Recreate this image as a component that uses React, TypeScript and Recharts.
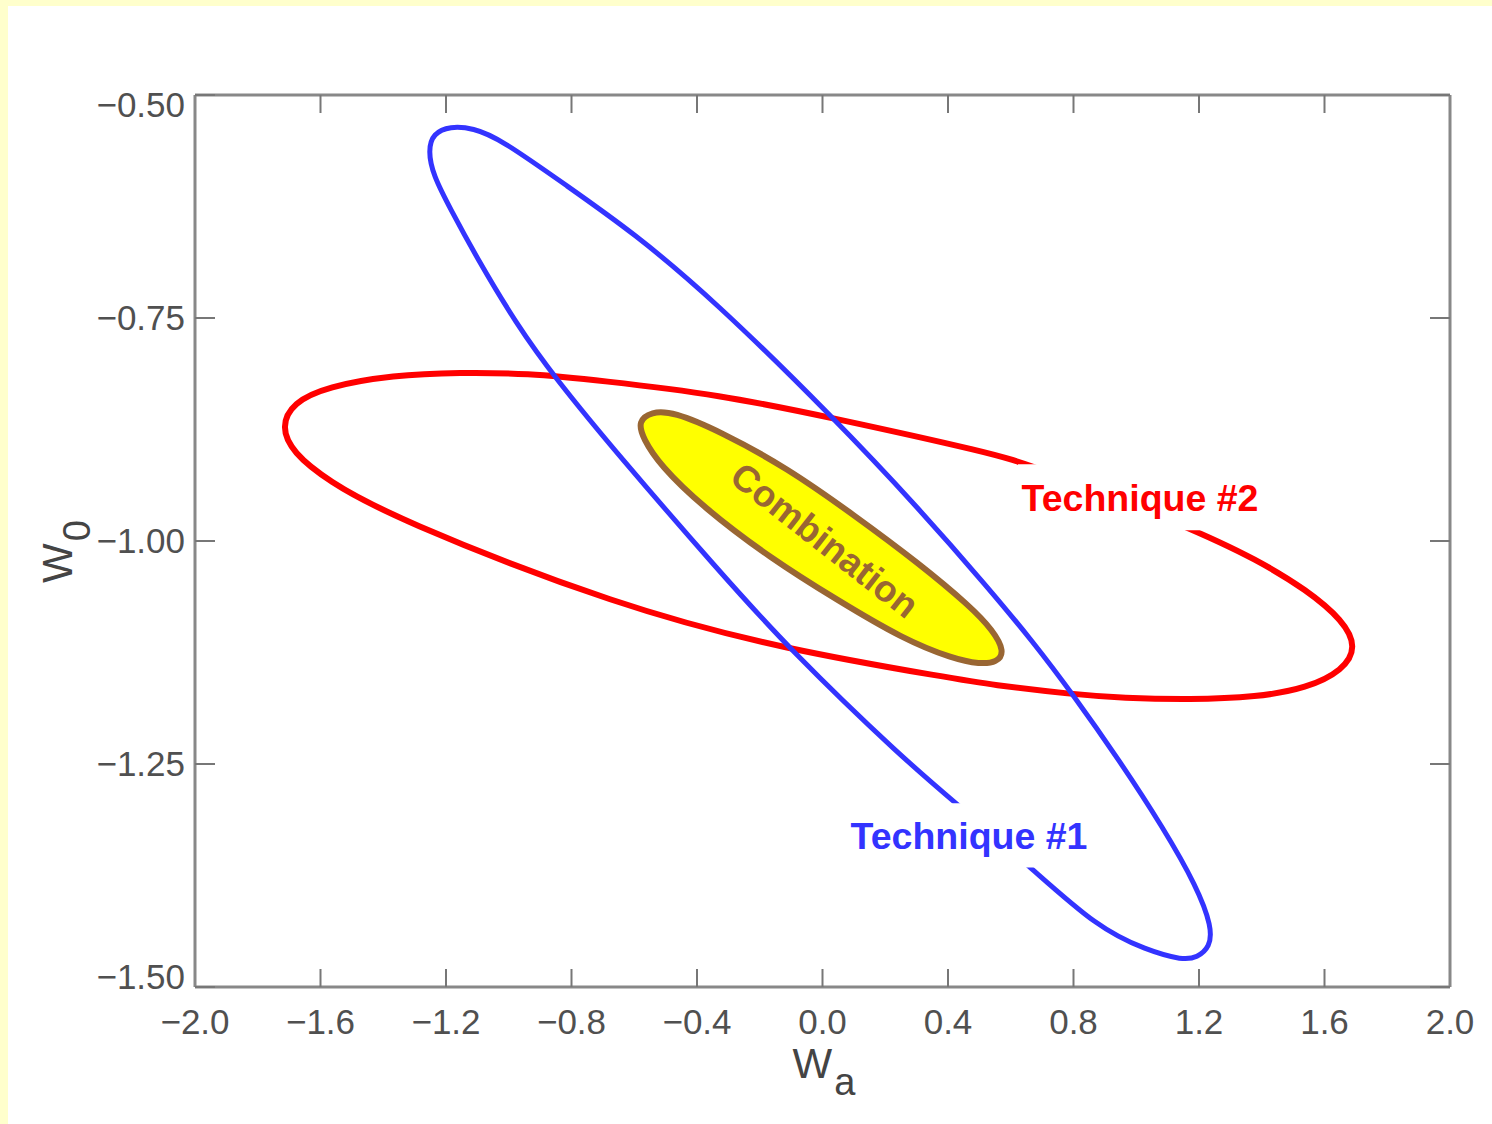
import React from 'react';
import { LineChart, Line, XAxis, YAxis, ReferenceArea, ReferenceDot, Label } from 'recharts';

// contour readings, [w_a, w_0], going round each ellipse clockwise
const technique1: [number, number][] = [
  [-1.187, -0.535], [-1.114, -0.537], [-1.028, -0.549], [-0.814, -0.602], [-0.604, -0.654],
  [-0.349, -0.729], [0.033, -0.861], [0.311, -0.965], [0.527, -1.052], [0.671, -1.113],
  [0.798, -1.172], [0.948, -1.247], [1.085, -1.321], [1.194, -1.388], [1.241, -1.433],
  [1.235, -1.455], [1.194, -1.467], [1.149, -1.47], [1.034, -1.459], [0.875, -1.433],
  [0.661, -1.365], [0.429, -1.295], [0.257, -1.244], [-0.104, -1.122], [-0.339, -1.03],
  [-0.645, -0.906], [-0.853, -0.817], [-0.977, -0.756], [-1.101, -0.683], [-1.187, -0.627],
  [-1.241, -0.59], [-1.257, -0.562], [-1.241, -0.543],
];

const technique2: [number, number][] = [
  [-1.726, -0.872], [-1.688, -0.845], [-1.579, -0.827], [-1.369, -0.814], [-1.155, -0.811],
  [-0.942, -0.812], [-0.709, -0.82], [-0.327, -0.836], [0.033, -0.862], [0.534, -0.901],
  [0.677, -0.916], [1.171, -0.985], [1.385, -1.021], [1.544, -1.055], [1.659, -1.089],
  [1.703, -1.119], [1.659, -1.145], [1.544, -1.165], [1.385, -1.175], [1.171, -1.178],
  [0.958, -1.176], [0.798, -1.172], [0.534, -1.161], [0.416, -1.154], [-0.113, -1.122],
  [-0.645, -1.074], [-1.369, -0.974], [-1.579, -0.932], [-1.688, -0.901],
];

const combination: [number, number][] = [
  [-0.546, -0.855], [-0.476, -0.855], [-0.327, -0.877], [-0.113, -0.918], [0.097, -0.97],
  [0.311, -1.026], [0.47, -1.073], [0.543, -1.1], [0.581, -1.124], [0.556, -1.136],
  [0.502, -1.138], [0.416, -1.132], [0.257, -1.11], [0.046, -1.066], [-0.167, -1.019],
  [-0.381, -0.962], [-0.518, -0.915], [-0.572, -0.885], [-0.588, -0.866],
];

const waTicks = [-2.0, -1.6, -1.2, -0.8, -0.4, 0.0, 0.4, 0.8, 1.2, 1.6, 2.0];
const w0Ticks = [-1.5, -1.25, -1.0, -0.75, -0.5];
const seriesNames = ['Technique #1', 'Technique #2', 'Combination'];

const toRows = (pts: [number, number][]) => pts.map(([x, y]) => ({ x, y }));

const FONT = '"Liberation Sans", Arial, Helvetica, sans-serif';
const AXIS_GREY = '#888';
const TEXT_GREY = '#505050';

const signed = (v: number, d: number) => (v < 0 ? '\u2212' + Math.abs(v).toFixed(d) : v.toFixed(d));

const YTick = ({ x, y, payload }: any) => {
    // end labels sit a little inside the frame in the original
    const shift = payload.value === -0.5 ? 10 : payload.value === -1.5 ? -10 : 0;
    return (
        <text x={x} y={y + shift} dy={12} textAnchor="end" fill={TEXT_GREY} fontSize={35} fontFamily={FONT}>
            {signed(payload.value, 2)}
        </text>
    );
};

const WaLabel = ({ viewBox }: any) => {
    const cx = viewBox.x + viewBox.width / 2;
    return (
        <text x={cx - 30} y={viewBox.y + 91} fill="#444" fontSize={42} fontFamily={FONT}>
            W<tspan dx={2} dy={17} fontSize={38}>a</tspan>
        </text>
    );
};

const W0Label = ({ viewBox }: any) => {
    const x = viewBox.x - 3;
    const y = viewBox.y + viewBox.height / 2 + 42;
    return (
        <text x={x} y={y} transform={`rotate(-90 ${x} ${y})`} fill="#444" fontSize={42} fontFamily={FONT}>
            W<tspan dx={2} dy={18} fontSize={38}>0</tspan>
        </text>
    );
};

export default function App() {
    return (
        <div style={{ position: 'relative', width: 1492, height: 1124, background: '#ffffcc', overflow: 'hidden' }}>
            <style>{`
                body { margin: 0; }
                .combo-fill .recharts-line-curve { fill: #ffff00; }
            `}</style>
            <div style={{ position: 'absolute', left: 8, top: 6, right: 0, bottom: 0, background: '#fff' }} />
            <div style={{ position: 'absolute', left: 0, top: 0 }}>
                <LineChart width={1492} height={1124} margin={{ top: 94, right: 41, bottom: 37, left: 75 }}>
                    <XAxis
                        dataKey="x" type="number" domain={[-2, 2]} ticks={waTicks} interval={0} allowDataOverflow
                        height={100} tickSize={-18} tickMargin={40}
                        axisLine={{ stroke: AXIS_GREY, strokeWidth: 3 }}
                        tickLine={{ stroke: '#777', strokeWidth: 2 }}
                        tick={{ fill: TEXT_GREY, fontSize: 35, fontFamily: FONT }}
                        tickFormatter={(v: number) => signed(v, 1)}
                        label={<Label content={WaLabel} />}
                    />
                    <XAxis
                        xAxisId="top" orientation="top" dataKey="x" type="number" domain={[-2, 2]} ticks={waTicks}
                        interval={0} allowDataOverflow height={1} tickSize={-18}
                        axisLine={{ stroke: AXIS_GREY, strokeWidth: 3 }}
                        tickLine={{ stroke: '#777', strokeWidth: 2 }}
                        tickFormatter={() => ''}
                    />
                    <YAxis
                        type="number" domain={[-1.5, -0.5]} ticks={w0Ticks} interval={0} allowDataOverflow
                        width={120} tickSize={-20} tickMargin={30}
                        axisLine={{ stroke: AXIS_GREY, strokeWidth: 3 }}
                        tickLine={{ stroke: '#777', strokeWidth: 2 }}
                        tick={<YTick />}
                        label={<Label content={W0Label} />}
                    />
                    <YAxis
                        yAxisId="right" orientation="right" type="number" domain={[-1.5, -0.5]} ticks={w0Ticks}
                        interval={0} allowDataOverflow width={1} tickSize={-20}
                        axisLine={{ stroke: AXIS_GREY, strokeWidth: 3 }}
                        tickLine={{ stroke: '#777', strokeWidth: 2 }}
                        tickFormatter={() => ''}
                    />

                    <Line data={toRows(technique2)} dataKey="y" name={seriesNames[1]} type="basisClosed"
                        stroke="#ff0000" strokeWidth={6} dot={false} activeDot={false} isAnimationActive={false} />
                    <Line data={toRows(technique1)} dataKey="y" name={seriesNames[0]} type="basisClosed"
                        stroke="#3333ff" strokeWidth={5} dot={false} activeDot={false} isAnimationActive={false} />
                    <Line data={toRows(combination)} dataKey="y" name={seriesNames[2]} type="basisClosed"
                        className="combo-fill" stroke="#996633" strokeWidth={6} dot={false} activeDot={false}
                        isAnimationActive={false} />

                    <ReferenceArea x1={0.623} x2={1.401} y1={-0.988} y2={-0.914} fill="#fff" fillOpacity={1}
                        stroke="none" zIndex={450}>
                        <Label value={seriesNames[1]} position="center" fill="#ff0000" fontSize={37.5}
                            fontWeight="bold" fontFamily={FONT} />
                    </ReferenceArea>
                    <ReferenceArea x1={0.081} x2={0.853} y1={-1.366} y2={-1.294} fill="#fff" fillOpacity={1}
                        stroke="none" zIndex={450}>
                        <Label value={seriesNames[0]} position="center" fill="#3333ff" fontSize={37.5}
                            fontWeight="bold" fontFamily={FONT} />
                    </ReferenceArea>
                    <ReferenceDot x={0.008} y={-0.999} r={1} fill="none" stroke="none">
                        <Label value={seriesNames[2]} position="center" angle={38} fill="#996633" fontSize={37}
                            fontWeight="bold" fontFamily={FONT} />
                    </ReferenceDot>
                </LineChart>
            </div>
        </div>
    );
}
